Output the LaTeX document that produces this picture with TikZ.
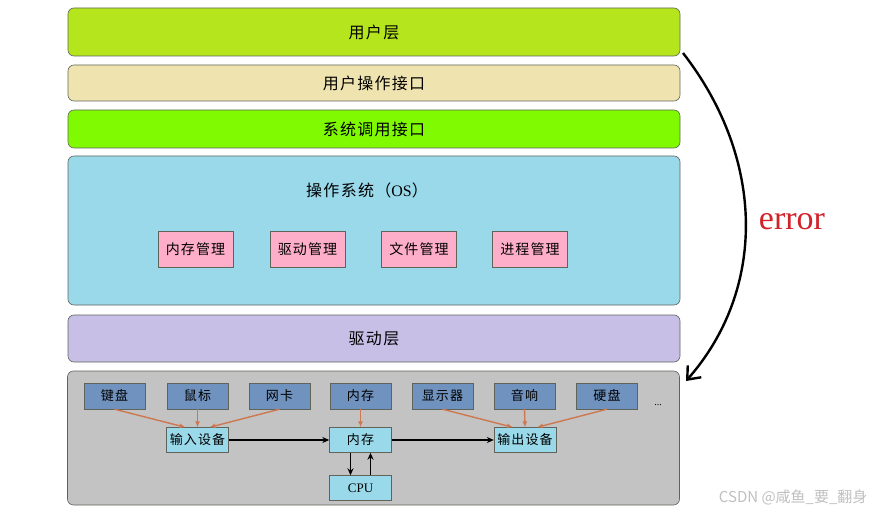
\documentclass[tikz,border=0pt]{standalone}
\usepackage{fontspec}
\setmainfont{Liberation Serif}
\newfontfamily\cjk[LetterSpace=8]{Noto Sans CJK SC}
\newfontfamily\cjkplain{Noto Sans CJK SC}
\usetikzlibrary{arrows.meta}
\tikzset{>=latex}
\definecolor{layeruser}{RGB}{181,230,29}
\definecolor{layertan}{RGB}{239,228,176}
\definecolor{layercall}{RGB}{128,250,0}
\definecolor{layeros}{RGB}{153,217,234}
\definecolor{layerdrv}{RGB}{200,191,231}
\definecolor{layerhw}{RGB}{195,195,195}
\definecolor{layerline}{RGB}{95,100,90}
\definecolor{modpink}{RGB}{255,174,201}
\definecolor{hwblue}{RGB}{112,146,190}
\definecolor{unitcyan}{RGB}{153,217,234}
\definecolor{feedorange}{RGB}{205,120,80}
\definecolor{errred}{RGB}{210,35,42}
\tikzstyle{layer}=[draw=layerline,line width=0.6pt,rounded corners=6pt,minimum width=612pt,inner sep=0pt,font=\cjk\fontsize{16}{18}\selectfont]
\tikzstyle{modbox}=[draw=layerline,fill=modpink,minimum width=75pt,minimum height=36pt,inner sep=0pt,font=\cjk\fontsize{14}{16}\selectfont]
\tikzstyle{hwbox}=[draw=layerline,fill=hwblue,minimum width=61pt,minimum height=26pt,inner sep=0pt,font=\cjk\fontsize{13}{15}\selectfont]
\tikzstyle{unitbox}=[draw=layerline,fill=unitcyan,minimum width=62pt,minimum height=25pt,inner sep=0pt,font=\cjk\fontsize{13}{15}\selectfont]
\tikzstyle{feed}=[-{Latex[length=6pt,width=5pt]},draw=feedorange,line width=1.4pt]
\tikzstyle{flow}=[-{Stealth[length=7pt,width=6pt]},line width=1.6pt]

\begin{document}
\begin{tikzpicture}[x=1pt,y=-1pt]
  \useasboundingbox (0,0) rectangle (874,513);
  % layers
  \node[layer,fill=layeruser,minimum height=48pt] (user) at (374,32) {用户层};
  \node[layer,fill=layertan,minimum height=36pt] (uapi) at (374,83) {用户操作接口};
  \node[layer,fill=layercall,minimum height=38pt] (sapi) at (374,129) {系统调用接口};
  \node[layer,fill=layeros,minimum height=149pt] (os) at (374,230.5) {};
  \node[font=\cjk\fontsize{16}{18}\selectfont] (ostitle) at (367,190) {操作系统（\rmfamily OS\cjk）};
  \node[modbox] (memmgr) at (195.5,249) {内存管理};
  \node[modbox] (drvmgr) at (307.5,249) {驱动管理};
  \node[modbox] (filemgr) at (419,249) {文件管理};
  \node[modbox] (procmgr) at (530,249) {进程管理};
  \node[layer,fill=layerdrv,minimum height=47pt] (drv) at (374,338.5) {驱动层};
  \node[layer,fill=layerhw,minimum height=134pt] (hw) at (373.5,438) {};

  % hardware
  \node[hwbox] (kbd) at (114.5,396) {键盘};
  \node[hwbox] (mouse) at (197.5,396) {鼠标};
  \node[hwbox] (nic) at (279.5,396) {网卡};
  \node[hwbox] (ram) at (360.5,396) {内存};
  \node[hwbox] (disp) at (442.5,396) {显示器};
  \node[hwbox] (spk) at (524.5,396) {音响};
  \node[hwbox] (hdd) at (607,396) {硬盘};
  \node[font=\fontsize{10}{12}\selectfont] (more) at (658,405) {...};
  \node[unitbox] (input) at (197.5,440) {输入设备};
  \node[unitbox] (mem) at (360.5,440) {内存};
  \node[unitbox] (output) at (525,440) {输出设备};
  \node[unitbox,font=\fontsize{13}{15}\selectfont] (cpu) at (360.5,488) {CPU};

  \draw[feed] (kbd.south) -- ([xshift=-12pt]input.north);
  \draw[feed] (mouse.south) -- (input.north);
  \draw[feed] (nic.south) -- ([xshift=12pt]input.north);
  \draw[feed] (ram.south) -- (mem.north);
  \draw[feed] (disp.south) -- ([xshift=-12pt]output.north);
  \draw[feed] (spk.south) -- (output.north);
  \draw[feed] (hdd.south) -- ([xshift=12pt]output.north);

  \draw[flow] (input.east) -- (mem.west);
  \draw[flow] (mem.east) -- (output.west);
  \draw[flow] ([xshift=-10pt]mem.south) -- ([xshift=-10pt]cpu.north);
  \draw[flow] ([xshift=10pt]cpu.north) -- ([xshift=10pt]mem.south);

  % error arc
  \coordinate (errstart) at (683,53);
  \coordinate (errend) at (686,381);
  \draw[line width=2.4pt,-{Straight Barb[length=11pt,width=18pt]}] (errstart) .. controls (766,160) and (766,290) .. (errend);
  \node[text=errred,font=\fontsize{34}{36}\selectfont] (err) at (792,222) {error};

  \node[text=black!25,font=\cjkplain\fontsize{15}{17}\selectfont,anchor=east] (mark) at (871,497) {CSDN @咸鱼\_要\_翻身};
\end{tikzpicture}
\end{document}
